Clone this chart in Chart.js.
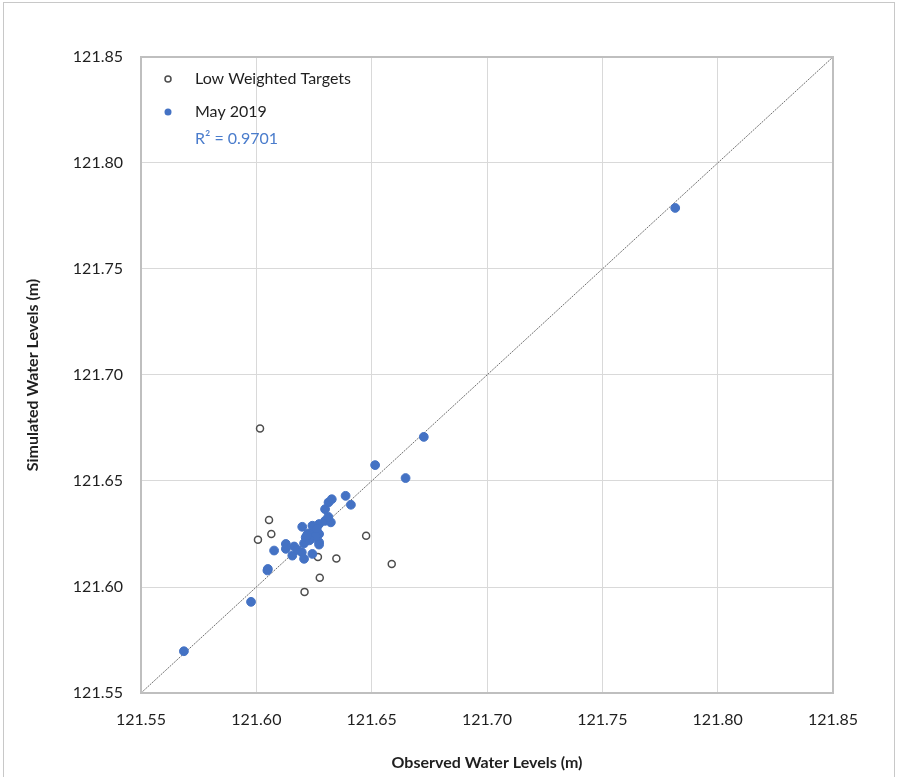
<!DOCTYPE html>
<html>
<head>
<meta charset="utf-8">
<title>Observed vs Simulated Water Levels</title>
<script src="https://cdn.jsdelivr.net/npm/chart.js@4/dist/chart.umd.min.js"></script>
<style>
  html, body { margin: 0; padding: 0; background: #fff; }
  #wrap { position: relative; width: 899px; height: 777px; overflow: hidden; }
  #frame { position: absolute; left: 3px; top: 2px; width: 892px; height: 790px; border: 1px solid #c8c8c8; box-sizing: border-box; }
  #chart { position: absolute; left: 0; top: 0; }
</style>
</head>
<body>
<div id="wrap">
  <div id="frame"></div>
  <canvas id="chart" width="899" height="777"></canvas>
</div>
<script>
// axis range and ticks
const axisMin = 121.55;
const axisMax = 121.85;
const tickStep = 0.05;

// May 2019 targets (observed, simulated)
const mayObserved = [
  121.5686, 121.5977, 121.6048, 121.6050, 121.6077, 121.6128, 121.6128, 121.6164,
  121.6156, 121.6178, 121.6197, 121.6207, 121.6243, 121.6207, 121.6214, 121.6236,
  121.6226, 121.6250, 121.6272, 121.6272, 121.6272, 121.6199, 121.6243, 121.6272,
  121.6298, 121.6323, 121.6312, 121.6298, 121.6313, 121.6327, 121.6387, 121.6410,
  121.6515, 121.6647, 121.6726, 121.7816, 121.6258, 121.6230, 121.6220, 121.6262
];
const maySimulated = [
  121.5697, 121.5930, 121.6078, 121.6085, 121.6172, 121.6203, 121.6180, 121.6191,
  121.6148, 121.6175, 121.6164, 121.6133, 121.6156, 121.6206, 121.6234, 121.6227,
  121.6253, 121.6265, 121.6250, 121.6211, 121.6200, 121.6284, 121.6289, 121.6297,
  121.6312, 121.6305, 121.6331, 121.6367, 121.6399, 121.6414, 121.6430, 121.6388,
  121.6575, 121.6514, 121.6708, 121.7788, 121.6240, 121.6220, 121.6245, 121.6275
];

// low weighted targets (observed, simulated)
const lowObserved = [121.6016, 121.6055, 121.6065, 121.6007, 121.6476, 121.6267, 121.6347, 121.6587, 121.6275, 121.6209];
const lowSimulated = [121.6748, 121.6316, 121.6250, 121.6223, 121.6242, 121.6141, 121.6134, 121.6108, 121.6044, 121.5977];

const rSquaredLabel = 'R\u00B2 = 0.9701';

const blue = '#4472C4';
const fontFamily = 'Lato, "Open Sans", sans-serif';

function toPoints(xs, ys) {
  return xs.map((x, i) => ({ x: x, y: ys[i] }));
}

// frame around plot area
const plotFrame = {
  id: 'plotFrame',
  afterDraw(chart) {
    const { ctx, chartArea: a } = chart;
    ctx.save();
    ctx.strokeStyle = '#bfbfbf';
    ctx.lineWidth = 2;
    ctx.strokeRect(a.left, a.top, a.right - a.left, a.bottom - a.top);
    ctx.restore();
  }
};

// legend drawn inside the plot, top left
const insideLegend = {
  id: 'insideLegend',
  afterDraw(chart) {
    const ctx = chart.ctx;
    const low = chart.data.datasets[1];
    const may = chart.data.datasets[0];
    ctx.save();
    ctx.font = '16px ' + fontFamily;
    ctx.textBaseline = 'middle';
    ctx.textAlign = 'left';

    ctx.beginPath();
    ctx.arc(168, 79, 3, 0, Math.PI * 2);
    ctx.fillStyle = low.pointBackgroundColor;
    ctx.fill();
    ctx.lineWidth = low.pointBorderWidth;
    ctx.strokeStyle = low.pointBorderColor;
    ctx.stroke();
    ctx.fillStyle = '#1f1f1f';
    ctx.fillText(low.label, 195, 79);

    ctx.beginPath();
    ctx.arc(168, 112, 3.5, 0, Math.PI * 2);
    ctx.fillStyle = may.pointBackgroundColor;
    ctx.fill();
    ctx.fillStyle = '#1f1f1f';
    ctx.fillText(may.label, 195, 112);

    ctx.fillStyle = '#4a7ccc';
    ctx.fillText(rSquaredLabel, 195, 139);
    ctx.restore();
  }
};

new Chart(document.getElementById('chart'), {
  type: 'scatter',
  data: {
    datasets: [
      {
        label: 'May 2019',
        data: toPoints(mayObserved, maySimulated),
        pointRadius: 4.4,
        pointBackgroundColor: blue,
        pointBorderColor: blue,
        pointBorderWidth: 1
      },
      {
        label: 'Low Weighted Targets',
        data: toPoints(lowObserved, lowSimulated),
        pointRadius: 3.5,
        pointBackgroundColor: '#ffffff',
        pointBorderColor: '#4d4d4d',
        pointBorderWidth: 1.5
      },
      {
        label: '1:1',
        type: 'line',
        data: [{ x: axisMin, y: axisMin }, { x: axisMax, y: axisMax }],
        borderColor: '#6f6f6f',
        borderWidth: 1,
        borderDash: [2, 1],
        pointRadius: 0
      }
    ]
  },
  options: {
    responsive: false,
    animation: false,
    devicePixelRatio: 1,
    layout: { padding: { left: 0, top: 57, right: 66, bottom: 0 } },
    plugins: {
      legend: { display: false },
      tooltip: { enabled: false }
    },
    scales: {
      x: {
        type: 'linear',
        min: axisMin,
        max: axisMax,
        afterFit(scale) { scale.height = 84; },
        afterBuildTicks(scale) {
          const t = [];
          for (let i = 0; i <= 6; i++) t.push({ value: +(axisMin + i * tickStep).toFixed(2) });
          scale.ticks = t;
        },
        grid: { color: '#d9d9d9', drawTicks: false },
        border: { display: false },
        ticks: {
          padding: 17,
          color: '#1f1f1f',
          font: { family: fontFamily, size: 16 },
          callback: v => v.toFixed(2)
        },
        title: {
          display: true,
          text: 'Observed Water Levels (m)',
          color: '#1f1f1f',
          font: { family: fontFamily, size: 16, weight: 'bold' },
          padding: { top: 0, bottom: 5 }
        }
      },
      y: {
        type: 'linear',
        min: axisMin,
        max: axisMax,
        afterFit(scale) { scale.width = 141; },
        afterBuildTicks(scale) {
          const t = [];
          for (let i = 0; i <= 6; i++) t.push({ value: +(axisMin + i * tickStep).toFixed(2) });
          scale.ticks = t;
        },
        grid: { color: '#d9d9d9', drawTicks: false },
        border: { display: false },
        ticks: {
          padding: 18,
          color: '#1f1f1f',
          font: { family: fontFamily, size: 16 },
          callback: v => v.toFixed(2)
        },
        title: {
          display: true,
          text: 'Simulated Water Levels (m)',
          color: '#1f1f1f',
          font: { family: fontFamily, size: 16, weight: 'bold' },
          padding: { top: 23, bottom: 0 }
        }
      }
    }
  },
  plugins: [plotFrame, insideLegend]
});
</script>
</body>
</html>
